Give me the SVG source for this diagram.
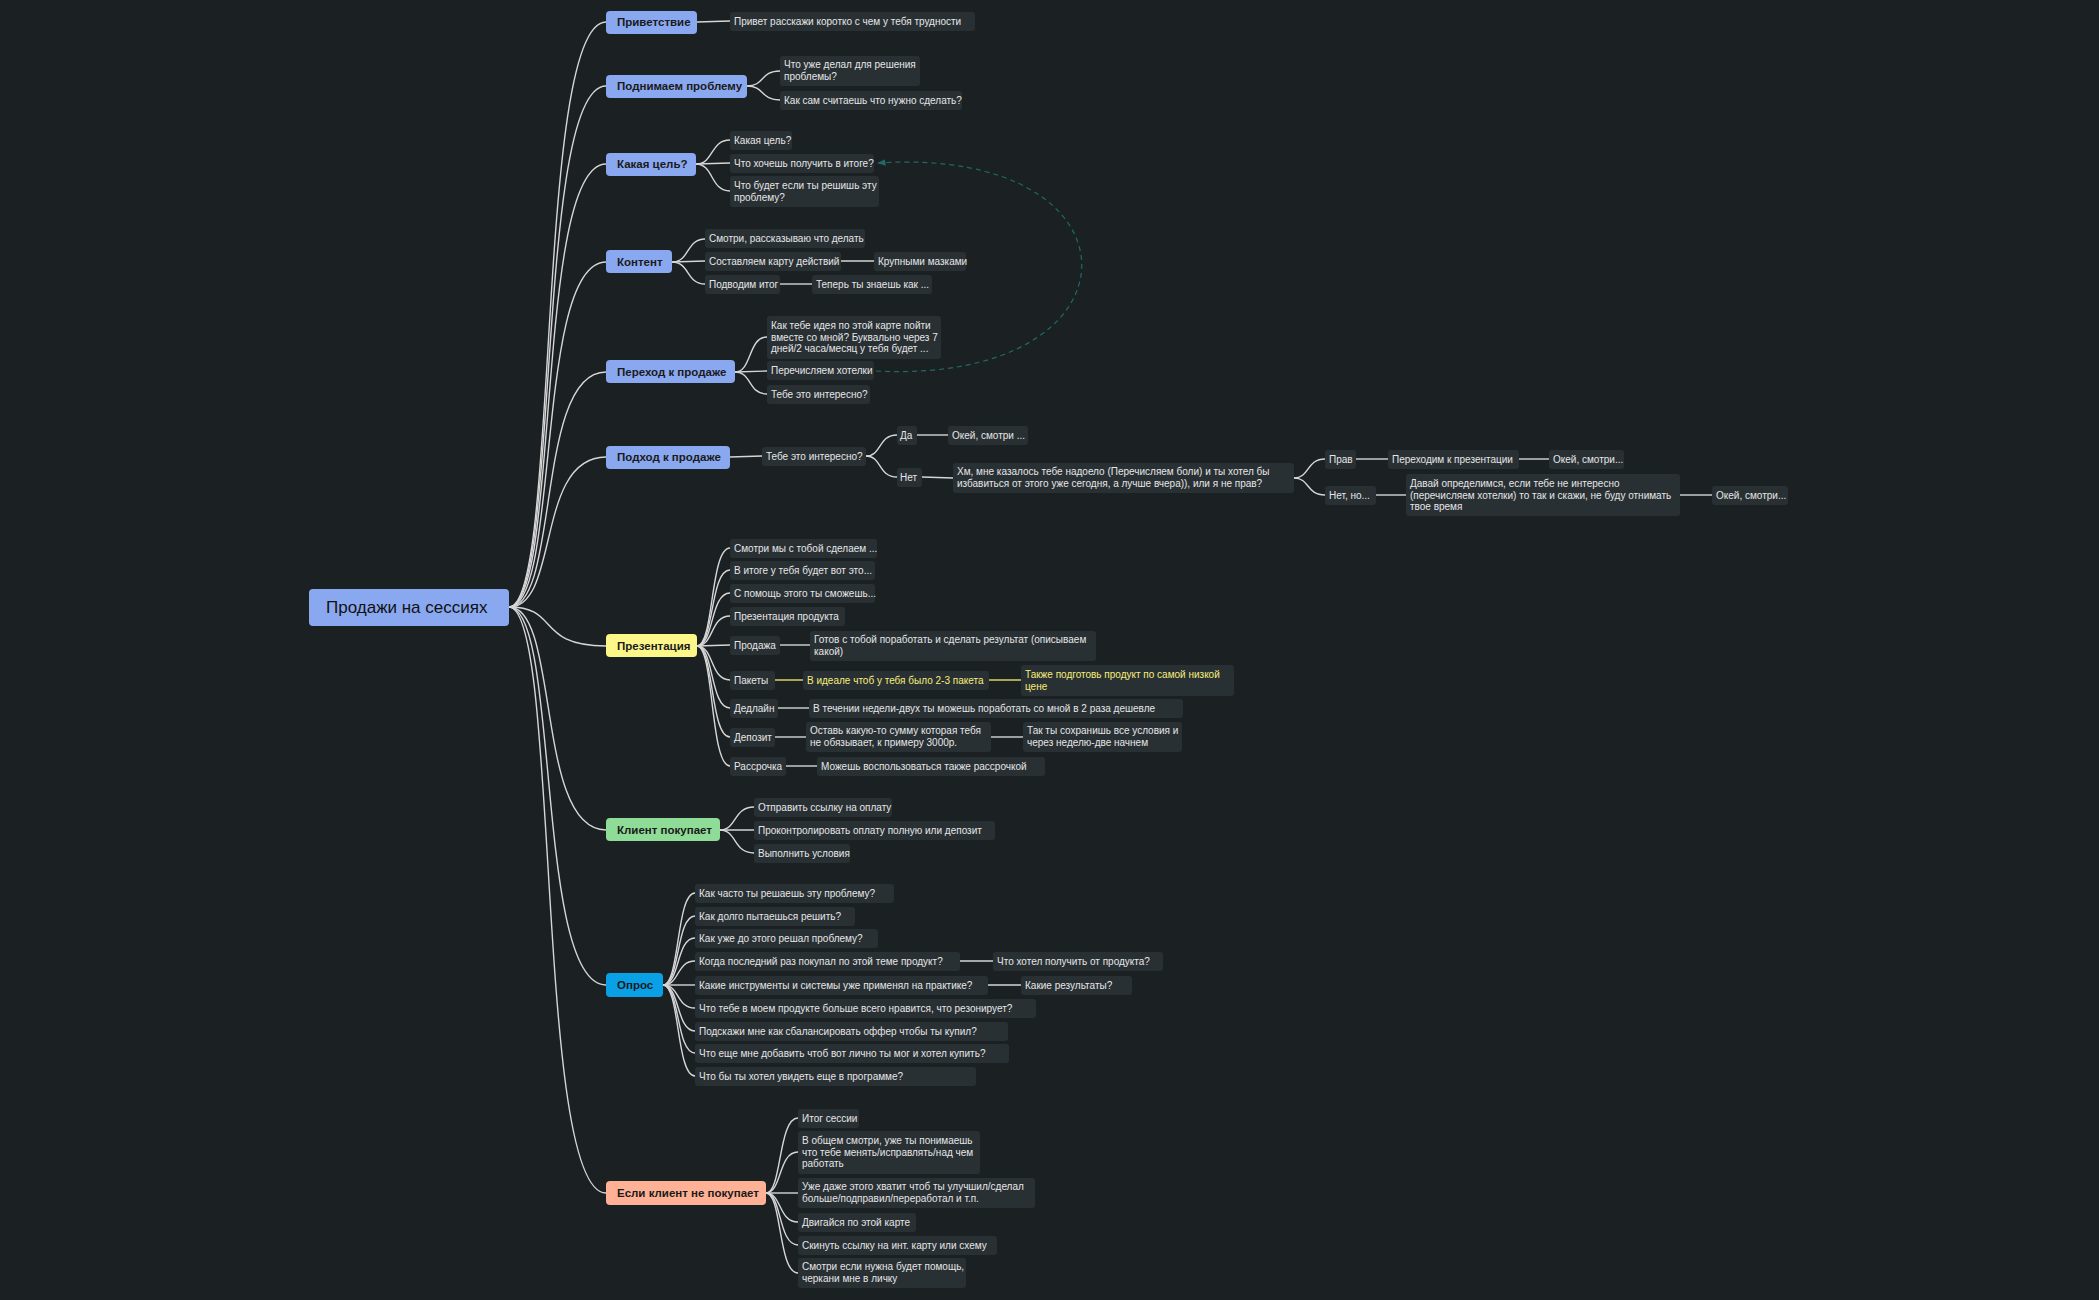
<svg xmlns="http://www.w3.org/2000/svg" width="2099" height="1300" viewBox="0 0 2099 1300">
<style>
.bg{fill:#1b2023}
.c rect{fill:#293034}
.c text{fill:#e6e6e6;font:10px "Liberation Sans",Arial,sans-serif}
.y text{fill:#f6ee7a}
.l1 text{fill:#1a1a1a;font:bold 11.5px "Liberation Sans",Arial,sans-serif}
.ln path{fill:none;stroke:#d6d6d6;stroke-width:1.4}
.ln path.yl{stroke:#e8e06a}
</style>
<defs><marker id="ah" viewBox="0 0 10 10" refX="9" refY="5" markerWidth="7" markerHeight="7" orient="auto"><path d="M0,1 L10,5 L0,9 z" fill="#1f6a66"/></marker></defs>
<rect class="bg" x="0" y="0" width="2099" height="1300"/>
<g class="ln" id="connectors">
<path d="M509,607 C560,607 535,22 606,22"/>
<path d="M509,607 C560,607 535,86 606,86"/>
<path d="M509,607 C560,607 535,164 606,164"/>
<path d="M509,607 C560,607 535,262 606,262"/>
<path d="M509,607 C560,607 535,372 606,372"/>
<path d="M509,607 C560,607 535,457 606,457"/>
<path d="M509,607 C560,607 535,646 606,646"/>
<path d="M509,607 C560,607 535,830 606,830"/>
<path d="M509,607 C560,607 535,985 606,985"/>
<path d="M509,607 C560,607 535,1193 606,1193"/>
<path d="M697,22 L730,21"/>
<path d="M747,86 C765,86 760,71 780,71"/><path d="M747,86 C765,86 760,100 780,100"/>
<path d="M696,164 C714,164 710,140 730,140"/><path d="M696,164 L730,163"/><path d="M696,164 C714,164 710,191 730,191"/>
<path d="M672,262 C690,262 686,239 705,239"/><path d="M672,262 L705,261"/><path d="M672,262 C690,262 686,284 705,284"/>
<path d="M841,261 L874,261"/><path d="M780,284 L812,284"/>
<path d="M735,372 C752,372 748,337 767,337"/><path d="M735,372 L767,371"/><path d="M735,372 C752,372 748,394 767,394"/>
<path d="M730,457 L762,456"/>
<path d="M866,456 C882,456 878,435 897,435"/><path d="M866,456 C882,456 878,477 897,477"/>
<path d="M917,435 L948,435"/><path d="M922,477 L953,478"/>
<path d="M1294,478 C1310,478 1306,459 1325,459"/><path d="M1294,478 C1310,478 1306,495 1325,495"/>
<path d="M1356,459 L1388,459"/><path d="M1519,459 L1549,459"/><path d="M1376,495 L1406,495"/><path d="M1680,495 L1712,495"/>
<path d="M697,646 C714,646 710,548 730,548"/><path d="M697,646 C714,646 710,570 730,570"/><path d="M697,646 C714,646 710,593 730,593"/><path d="M697,646 C714,646 710,616 730,616"/><path d="M697,646 L730,645"/><path d="M697,646 C714,646 710,680 730,680"/><path d="M697,646 C714,646 710,708 730,708"/><path d="M697,646 C714,646 710,737 730,737"/><path d="M697,646 C714,646 710,766 730,766"/>
<path d="M780,645 L810,645"/><path class="yl" d="M775,680 L803,680"/><path class="yl" d="M989,680 L1021,680"/><path d="M778,708 L809,708"/><path d="M775,737 L806,737"/><path d="M991,737 L1023,737"/><path d="M786,766 L817,766"/>
<path d="M720,830 C737,830 733,807 754,807"/><path d="M720,830 L754,830"/><path d="M720,830 C737,830 733,853 754,853"/>
<path d="M663,985 C680,985 676,893 695,893"/><path d="M663,985 C680,985 676,916 695,916"/><path d="M663,985 C680,985 676,938 695,938"/><path d="M663,985 C680,985 676,961 695,961"/><path d="M663,985 L695,985"/><path d="M663,985 C680,985 676,1008 695,1008"/><path d="M663,985 C680,985 676,1031 695,1031"/><path d="M663,985 C680,985 676,1053 695,1053"/><path d="M663,985 C680,985 676,1076 695,1076"/>
<path d="M960,961 L993,961"/><path d="M988,985 L1021,985"/>
<path d="M766,1193 C782,1193 778,1118 798,1118"/><path d="M766,1193 C782,1193 778,1152 798,1152"/><path d="M766,1193 L798,1193"/><path d="M766,1193 C782,1193 778,1222 798,1222"/><path d="M766,1193 C782,1193 778,1245 798,1245"/><path d="M766,1193 C782,1193 778,1273 798,1273"/>
<path d="M876,371 C1150,385 1150,145 878,163" style="stroke:#1f6a66;stroke-dasharray:5,4;stroke-width:1.2" marker-end="url(#ah)"/>
</g>
<g id="root"><rect x="309" y="589" width="200" height="37" rx="4" fill="#8aa8f0"/><text x="326" y="613" font-family="Liberation Sans,Arial,sans-serif" font-size="17" fill="#111">Продажи на сессиях</text></g>
<g class="l1" id="n1"><rect x="606" y="11" width="91" height="23" rx="4" fill="#8aa8f0"/><text x="617" y="26">Приветствие</text></g>
<g class="l1" id="n2"><rect x="606" y="75" width="141" height="23" rx="4" fill="#8aa8f0"/><text x="617" y="90">Поднимаем проблему</text></g>
<g class="l1" id="n3"><rect x="606" y="153" width="90" height="23" rx="4" fill="#8aa8f0"/><text x="617" y="168">Какая цель?</text></g>
<g class="l1" id="n4"><rect x="606" y="250" width="66" height="23" rx="4" fill="#8aa8f0"/><text x="617" y="266">Контент</text></g>
<g class="l1" id="n5"><rect x="606" y="360" width="129" height="23" rx="4" fill="#8aa8f0"/><text x="617" y="376">Переход к продаже</text></g>
<g class="l1" id="n6"><rect x="606" y="446" width="124" height="23" rx="4" fill="#8aa8f0"/><text x="617" y="461">Подход к продаже</text></g>
<g class="l1" id="n7"><rect x="606" y="634" width="91" height="23" rx="4" fill="#fdf78a"/><text x="617" y="650">Презентация</text></g>
<g class="l1" id="n8"><rect x="606" y="818" width="114" height="23" rx="4" fill="#8fdc98"/><text x="617" y="834">Клиент покупает</text></g>
<g class="l1" id="n9"><rect x="606" y="973" width="57" height="24" rx="4" fill="#09a0e6"/><text x="617" y="989">Опрос</text></g>
<g class="l1" id="n10"><rect x="606" y="1181" width="160" height="24" rx="4" fill="#ffb196"/><text x="617" y="1197">Если клиент не покупает</text></g>
<g class="c" id="c1"><rect x="730" y="12" width="245" height="19" rx="3"/><text x="734" y="25">Привет расскажи коротко с чем у тебя трудности</text></g>
<g class="c" id="c2"><rect x="780" y="56" width="140" height="30" rx="3"/><text x="784" y="68">Что уже делал для решения</text><text x="784" y="80">проблемы?</text></g>
<g class="c" id="c3"><rect x="780" y="91" width="182" height="19" rx="3"/><text x="784" y="104">Как сам считаешь что нужно сделать?</text></g>
<g class="c" id="c4"><rect x="730" y="131" width="62" height="19" rx="3"/><text x="734" y="144">Какая цель?</text></g>
<g class="c" id="c5"><rect x="730" y="154" width="144" height="19" rx="3"/><text x="734" y="167">Что хочешь получить в итоге?</text></g>
<g class="c" id="c6"><rect x="730" y="176" width="149" height="31" rx="3"/><text x="734" y="189">Что будет если ты решишь эту</text><text x="734" y="201">проблему?</text></g>
<g class="c" id="c7"><rect x="705" y="229" width="160" height="19" rx="3"/><text x="709" y="242">Смотри, рассказываю что делать</text></g>
<g class="c" id="c8"><rect x="705" y="252" width="136" height="19" rx="3"/><text x="709" y="265">Составляем карту действий</text></g>
<g class="c" id="c9"><rect x="874" y="252" width="92" height="19" rx="3"/><text x="878" y="265">Крупными мазками</text></g>
<g class="c" id="c10"><rect x="705" y="275" width="75" height="19" rx="3"/><text x="709" y="288">Подводим итог</text></g>
<g class="c" id="c11"><rect x="812" y="275" width="120" height="19" rx="3"/><text x="816" y="288">Теперь ты знаешь как ...</text></g>
<g class="c" id="c12"><rect x="767" y="316" width="174" height="43" rx="3"/><text x="771" y="329">Как тебе идея по этой карте пойти</text><text x="771" y="340.5">вместе со мной? Буквально через 7</text><text x="771" y="352">дней/2 часа/месяц у тебя будет ...</text></g>
<g class="c" id="c13"><rect x="767" y="361" width="107" height="19" rx="3"/><text x="771" y="374">Перечисляем хотелки</text></g>
<g class="c" id="c14"><rect x="767" y="385" width="103" height="19" rx="3"/><text x="771" y="398">Тебе это интересно?</text></g>
<g class="c" id="c15"><rect x="762" y="447" width="104" height="19" rx="3"/><text x="766" y="460">Тебе это интересно?</text></g>
<g class="c" id="c16"><rect x="897" y="426" width="20" height="19" rx="3"/><text x="900" y="439">Да</text></g>
<g class="c" id="c17"><rect x="948" y="426" width="80" height="19" rx="3"/><text x="952" y="439">Окей, смотри ...</text></g>
<g class="c" id="c18"><rect x="897" y="468" width="25" height="19" rx="3"/><text x="900" y="481">Нет</text></g>
<g class="c" id="c19"><rect x="953" y="463" width="341" height="30" rx="3"/><text x="957" y="475">Хм, мне казалось тебе надоело (Перечисляем боли) и ты хотел бы</text><text x="957" y="487">избавиться от этого уже сегодня, а лучше вчера)), или я не прав?</text></g>
<g class="c" id="c20"><rect x="1325" y="450" width="31" height="19" rx="3"/><text x="1329" y="463">Прав</text></g>
<g class="c" id="c21"><rect x="1388" y="450" width="131" height="19" rx="3"/><text x="1392" y="463">Переходим к презентации</text></g>
<g class="c" id="c22"><rect x="1549" y="450" width="75" height="19" rx="3"/><text x="1553" y="463">Окей, смотри...</text></g>
<g class="c" id="c23"><rect x="1325" y="486" width="51" height="19" rx="3"/><text x="1329" y="499">Нет, но...</text></g>
<g class="c" id="c24"><rect x="1406" y="474" width="274" height="42" rx="3"/><text x="1410" y="487">Давай определимся, если тебе не интересно</text><text x="1410" y="498.5">(перечисляем хотелки) то так и скажи, не буду отнимать</text><text x="1410" y="510">твое время</text></g>
<g class="c" id="c25"><rect x="1712" y="486" width="76" height="19" rx="3"/><text x="1716" y="499">Окей, смотри...</text></g>
<g class="c" id="c26"><rect x="730" y="539" width="147" height="19" rx="3"/><text x="734" y="552">Смотри мы с тобой сделаем ...</text></g>
<g class="c" id="c27"><rect x="730" y="561" width="145" height="19" rx="3"/><text x="734" y="574">В итоге у тебя будет вот это...</text></g>
<g class="c" id="c28"><rect x="730" y="584" width="145" height="19" rx="3"/><text x="734" y="597">С помощь этого ты сможешь...</text></g>
<g class="c" id="c29"><rect x="730" y="607" width="115" height="19" rx="3"/><text x="734" y="620">Презентация продукта</text></g>
<g class="c" id="c30"><rect x="730" y="636" width="50" height="19" rx="3"/><text x="734" y="649">Продажа</text></g>
<g class="c" id="c31"><rect x="810" y="631" width="286" height="30" rx="3"/><text x="814" y="643">Готов с тобой поработать и сделать результат (описываем</text><text x="814" y="655">какой)</text></g>
<g class="c" id="c32"><rect x="730" y="671" width="45" height="19" rx="3"/><text x="734" y="684">Пакеты</text></g>
<g class="c y" id="c33"><rect x="803" y="671" width="186" height="19" rx="3"/><text x="807" y="684">В идеале чтоб у тебя было 2-3 пакета</text></g>
<g class="c y" id="c34"><rect x="1021" y="665" width="213" height="31" rx="3"/><text x="1025" y="678">Также подготовь продукт по самой низкой</text><text x="1025" y="690">цене</text></g>
<g class="c" id="c35"><rect x="730" y="699" width="48" height="19" rx="3"/><text x="734" y="712">Дедлайн</text></g>
<g class="c" id="c36"><rect x="809" y="699" width="374" height="19" rx="3"/><text x="813" y="712">В течении недели-двух ты можешь поработать со мной в 2 раза дешевле</text></g>
<g class="c" id="c37"><rect x="730" y="728" width="45" height="19" rx="3"/><text x="734" y="741">Депозит</text></g>
<g class="c" id="c38"><rect x="806" y="722" width="185" height="30" rx="3"/><text x="810" y="734">Оставь какую-то сумму которая тебя</text><text x="810" y="746">не обязывает, к примеру 3000р.</text></g>
<g class="c" id="c39"><rect x="1023" y="722" width="159" height="30" rx="3"/><text x="1027" y="734">Так ты сохранишь все условия и</text><text x="1027" y="746">через неделю-две начнем</text></g>
<g class="c" id="c40"><rect x="730" y="757" width="56" height="19" rx="3"/><text x="734" y="770">Рассрочка</text></g>
<g class="c" id="c41"><rect x="817" y="757" width="228" height="19" rx="3"/><text x="821" y="770">Можешь воспользоваться также рассрочкой</text></g>
<g class="c" id="c42"><rect x="754" y="798" width="138" height="19" rx="3"/><text x="758" y="811">Отправить ссылку на оплату</text></g>
<g class="c" id="c43"><rect x="754" y="821" width="241" height="19" rx="3"/><text x="758" y="834">Проконтролировать оплату полную или депозит</text></g>
<g class="c" id="c44"><rect x="754" y="844" width="96" height="19" rx="3"/><text x="758" y="857">Выполнить условия</text></g>
<g class="c" id="c45"><rect x="695" y="884" width="199" height="19" rx="3"/><text x="699" y="897">Как часто ты решаешь эту проблему?</text></g>
<g class="c" id="c46"><rect x="695" y="907" width="160" height="19" rx="3"/><text x="699" y="920">Как долго пытаешься решить?</text></g>
<g class="c" id="c47"><rect x="695" y="929" width="183" height="19" rx="3"/><text x="699" y="942">Как уже до этого решал проблему?</text></g>
<g class="c" id="c48"><rect x="695" y="952" width="265" height="19" rx="3"/><text x="699" y="965">Когда последний раз покупал по этой теме продукт?</text></g>
<g class="c" id="c49"><rect x="993" y="952" width="170" height="19" rx="3"/><text x="997" y="965">Что хотел получить от продукта?</text></g>
<g class="c" id="c50"><rect x="695" y="976" width="293" height="19" rx="3"/><text x="699" y="989">Какие инструменты и системы уже применял на практике?</text></g>
<g class="c" id="c51"><rect x="1021" y="976" width="111" height="19" rx="3"/><text x="1025" y="989">Какие результаты?</text></g>
<g class="c" id="c52"><rect x="695" y="999" width="341" height="19" rx="3"/><text x="699" y="1012">Что тебе в моем продукте больше всего нравится, что резонирует?</text></g>
<g class="c" id="c53"><rect x="695" y="1022" width="313" height="19" rx="3"/><text x="699" y="1035">Подскажи мне как сбалансировать оффер чтобы ты купил?</text></g>
<g class="c" id="c54"><rect x="695" y="1044" width="314" height="19" rx="3"/><text x="699" y="1057">Что еще мне добавить чтоб вот лично ты мог и хотел купить?</text></g>
<g class="c" id="c55"><rect x="695" y="1067" width="281" height="19" rx="3"/><text x="699" y="1080">Что бы ты хотел увидеть еще в программе?</text></g>
<g class="c" id="c56"><rect x="798" y="1109" width="61" height="19" rx="3"/><text x="802" y="1122">Итог сессии</text></g>
<g class="c" id="c57"><rect x="798" y="1131" width="182" height="43" rx="3"/><text x="802" y="1144">В общем смотри, уже ты понимаешь</text><text x="802" y="1155.5">что тебе менять/исправлять/над чем</text><text x="802" y="1167">работать</text></g>
<g class="c" id="c58"><rect x="798" y="1178" width="237" height="30" rx="3"/><text x="802" y="1190">Уже даже этого хватит чтоб ты улучшил/сделал</text><text x="802" y="1202">больше/подправил/переработал и т.п.</text></g>
<g class="c" id="c59"><rect x="798" y="1213" width="118" height="19" rx="3"/><text x="802" y="1226">Двигайся по этой карте</text></g>
<g class="c" id="c60"><rect x="798" y="1236" width="199" height="19" rx="3"/><text x="802" y="1249">Скинуть ссылку на инт. карту или схему</text></g>
<g class="c" id="c61"><rect x="798" y="1258" width="168" height="30" rx="3"/><text x="802" y="1270">Смотри если нужна будет помощь,</text><text x="802" y="1282">черкани мне в личку</text></g>
</svg>
